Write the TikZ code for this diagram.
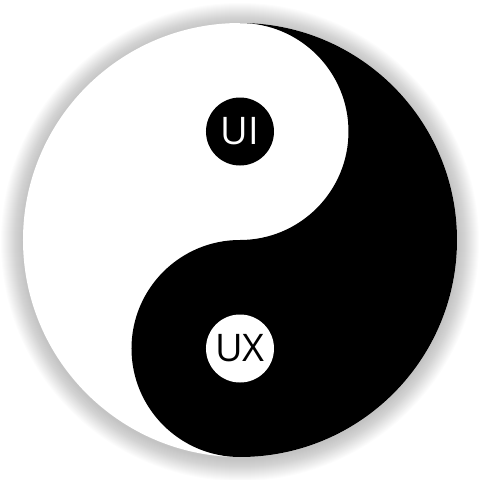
\documentclass[tikz,border=0pt]{standalone}
\usepackage{fontspec}
\setsansfont{Open Sans}
\begin{document}
\begin{tikzpicture}[x=1pt,y=1pt,
  dotlabel/.style={circle,minimum size=68pt,inner sep=0pt,font=\sffamily\fontsize{38}{38}\selectfont}]
\useasboundingbox (-240,-240) rectangle (240,240);
\def\R{217}
\coordinate (c) at (0,0);
% soft shadow
\foreach \i in {1,...,22}{
  \fill[black,opacity=0.01] (0,-2) circle ({\R+\i});
}
\fill[white] (c) circle (\R);
% black half
\fill[black] (0,\R) arc[start angle=90,end angle=-90,radius=\R]
  arc[start angle=270,end angle=90,radius=\R/2]
  arc[start angle=270,end angle=450,radius=\R/2] -- cycle;
\node[dotlabel,fill=black,text=white] (ui) at (0,\R/2) {UI};
\node[dotlabel,fill=white,text=black] (ux) at (0,-\R/2) {UX};
\end{tikzpicture}
\end{document}
